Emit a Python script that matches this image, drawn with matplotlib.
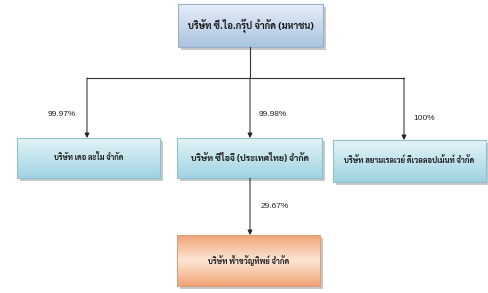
import matplotlib
matplotlib.use("Agg")
import matplotlib.pyplot as plt
import numpy as np
from matplotlib.patches import Rectangle

plt.rcParams['font.family'] = ['Sarabun', 'Noto Sans Thai Looped', 'DejaVu Sans']

# company names
parent = "บริษัท ซี.ไอ.กรุ๊ป จำกัด (มหาชน)"
subs = ["บริษัท เดอ ละไม จำกัด",
        "บริษัท ซีไอจี (ประเทศไทย) จำกัด",
        "บริษัท สยามเรลเวย์ ดีเวลลอปเม้นท์ จำกัด"]
sub_shares = ["99.97%", "99.98%", "100%"]
grand = "บริษัท ฟ้าขวัญทิพย์ จำกัด"
grand_share = "29.67%"

fig = plt.figure(figsize=(4.89, 2.93), dpi=100)
ax = fig.add_axes([0, 0, 1, 1])
ax.set_xlim(0, 489)
ax.set_ylim(293, 0)
ax.axis("off")


def box(x0, y0, x1, y1, top, bottom, text, size=7, edge="#9ab0c4", mid=None):
    # drop shadow
    ax.add_patch(Rectangle((x0 + 3, y0 + 3), x1 - x0, y1 - y0,
                           facecolor="#c8c8c8", edgecolor="none", zorder=1))
    t = np.array(matplotlib.colors.to_rgb(top))
    b = np.array(matplotlib.colors.to_rgb(bottom))
    s = np.linspace(0, 1, 50)[:, None]
    if mid is not None:
        m = np.array(matplotlib.colors.to_rgb(mid))
        w = np.abs(s * 2 - 1)
        grad = m * (1 - w) + b * w
    else:
        grad = t * (1 - s) + b * s
    img = np.repeat(grad[:, None, :], 2, axis=1)
    ax.imshow(img, extent=(x0, x1, y1, y0), aspect="auto", zorder=2,
              interpolation="bilinear")
    ax.add_patch(Rectangle((x0, y0), x1 - x0, y1 - y0, facecolor="none",
                           edgecolor=edge, lw=0.8, zorder=3))
    ax.text((x0 + x1) / 2, (y0 + y1) / 2, text, ha="center", va="center",
            fontsize=size, fontweight="bold", color="#1a1a1a", zorder=4)


def arrow(x, y0, y1):
    ax.annotate("", xy=(x, y1), xytext=(x, y0),
                arrowprops=dict(arrowstyle="-|>", color="#222222", lw=0.7,
                                mutation_scale=7, shrinkA=0, shrinkB=0),
                zorder=5)


# top box
box(178, 4, 323, 47, "#e6eef8", "#a9c3df", parent, size=6.8)

sub_boxes = [(17, 138, 160, 178), (177, 138, 322, 178), (333, 140, 486, 182)]
sub_x = [87, 250, 404]
label_x = [62, 273, 424]
label_y = [115, 115, 118]
sub_size = [5.4, 6.3, 5.5]

ax.plot([250, 250], [47, 78], color="#333333", lw=0.8, zorder=5)
ax.plot([sub_x[0], sub_x[2]], [78, 78], color="#333333", lw=0.8, zorder=5)

for i in range(3):
    x0, y0, x1, y1 = sub_boxes[i]
    arrow(sub_x[i], 78, y0)
    ax.text(label_x[i], label_y[i], sub_shares[i], ha="center", va="center",
            fontsize=6, color="#222222", family="Liberation Sans")
    box(x0, y0, x1, y1, "#e4f4f8", "#9fd3e1", subs[i], size=sub_size[i],
        edge="#8fc0cf")

# grand child
arrow(250, 178, 235)
ax.text(275, 206, grand_share, ha="center", va="center", fontsize=6,
        color="#222222", family="Liberation Sans")
box(177, 235, 320, 286, "#fbe3d0", "#f0a576", grand, size=5.5,
    edge="#d9a080", mid="#fce6d5")

fig.savefig("out.png", dpi=100)
